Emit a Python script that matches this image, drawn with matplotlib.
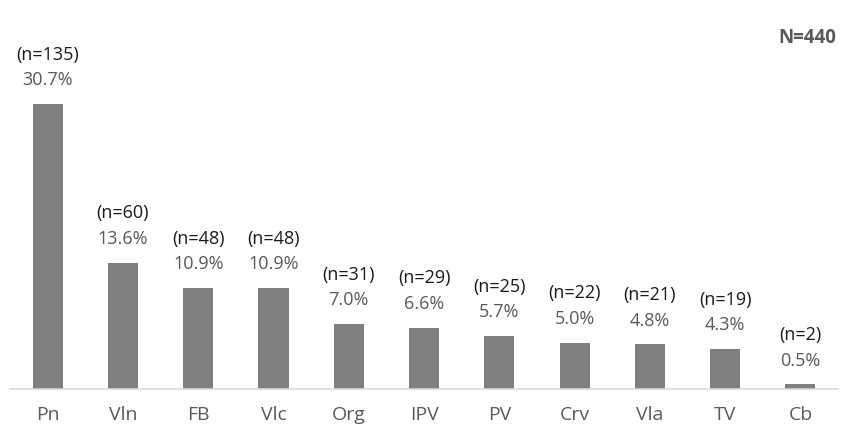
import matplotlib.pyplot as plt

categories = ['Pn', 'Vln', 'FB', 'Vlc', 'Org', 'IPV', 'PV', 'Crv', 'Vla', 'TV', 'Cb']
counts = [135, 60, 48, 48, 31, 29, 25, 22, 21, 19, 2]
percents = [30.7, 13.6, 10.9, 10.9, 7.0, 6.6, 5.7, 5.0, 4.8, 4.3, 0.5]
total = 440

plt.rcParams['font.family'] = ['Open Sans', 'DejaVu Sans']

fig = plt.figure(figsize=(8.45, 4.32), dpi=100)
ax = fig.add_axes([0.0118, 0.0995, 0.98, 0.9005])

x = range(len(categories))
bars = ax.bar(x, percents, width=0.4, color='#7f7f7f', zorder=2)

ax.set_xlim(-0.5, len(categories) - 0.5)
ax.set_ylim(0, 41.9)

for xi, n, p in zip(x, counts, percents):
    ax.annotate(f'{p:.1f}%', (xi, p), xytext=(0, 17), textcoords='offset points',
                ha='center', va='center', fontsize=13, color='#595959')
    ax.annotate(f'(n={n})', (xi, p), xytext=(0, 35.5), textcoords='offset points',
                ha='center', va='center', fontsize=13, color='#1a1a1a')

ax.set_xticks(list(x))
ax.set_xticklabels(categories, fontsize=14, color='#595959')
ax.tick_params(axis='x', length=0, pad=12)
ax.set_yticks([])

for side in ['top', 'right', 'left']:
    ax.spines[side].set_visible(False)
ax.spines['bottom'].set_color('#d9d9d9')
ax.spines['bottom'].set_linewidth(1.2)

fig.text(0.99, 0.913, f'N={total}', ha='right', va='center', fontsize=13.5,
         fontweight='bold', color='#595959')

fig.savefig('out.png', dpi=100)
